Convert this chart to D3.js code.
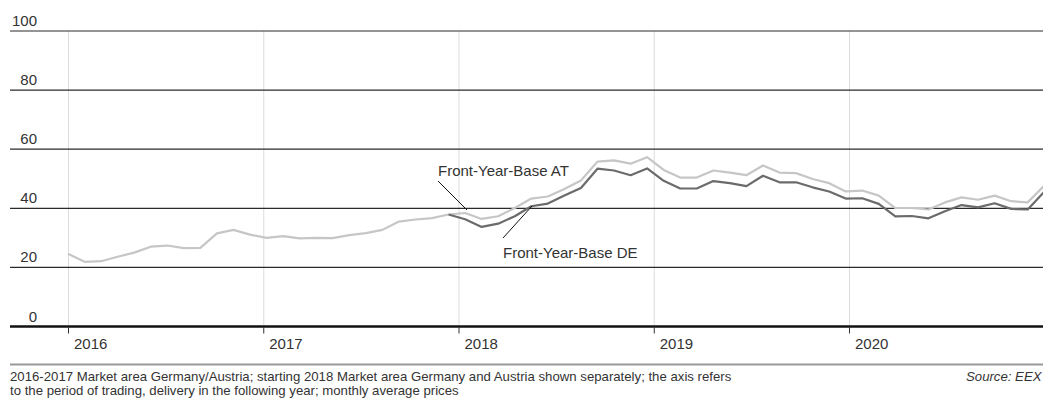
<!DOCTYPE html>
<html>
<head>
<meta charset="utf-8">
<script src="https://cdn.jsdelivr.net/npm/d3@7"></script>
<style>
  html, body { margin: 0; padding: 0; background: #fff; }
  svg { display: block; }
  text { font-family: "Liberation Sans", Arial, sans-serif; fill: #333; }
</style>
</head>
<body>
<svg id="chart" width="1043" height="403"></svg>
<script>
const years = [2016, 2017, 2018, 2019, 2020];
const yTicks = [0, 20, 40, 60, 80, 100];

// Front-Year-Base AT (2016-2017: Germany/Austria), monthly averages Jan 2016 - Dec 2020
const atValues = [
  24.6, 21.9, 22.1, 23.6, 25.0, 27.0, 27.4, 26.5, 26.6, 31.5, 32.7, 31.1,
  30.0, 30.6, 29.8, 30.0, 29.9, 30.9, 31.6, 32.7, 35.5, 36.2, 36.7, 37.9,
  38.4, 36.4, 37.3, 40.1, 43.3, 44.0, 46.5, 49.4, 55.8, 56.2, 55.1, 57.3,
  53.0, 50.4, 50.4, 52.8, 52.1, 51.2, 54.5, 52.1, 51.9, 49.9, 48.5, 45.7,
  46.0, 44.3, 40.1, 40.1, 39.6, 42.0, 43.7, 42.9, 44.3, 42.4, 42.0, 47.7
];
// Front-Year-Base DE (separate from Dec 2017)
const deValues = [
  null, null, null, null, null, null, null, null, null, null, null, null,
  null, null, null, null, null, null, null, null, null, null, null, 37.9,
  36.3, 33.7, 34.8, 37.3, 40.7, 41.6, 44.3, 46.9, 53.4, 52.8, 51.2, 53.5,
  49.3, 46.7, 46.7, 49.2, 48.5, 47.5, 51.0, 48.8, 48.8, 47.1, 45.7, 43.3,
  43.4, 41.5, 37.3, 37.4, 36.6, 39.0, 41.1, 40.3, 41.7, 39.8, 39.6, 45.6
];
const seriesLabels = ["Front-Year-Base AT", "Front-Year-Base DE"];
const footnoteLines = [
  "2016-2017 Market area Germany/Austria; starting 2018 Market area Germany and Austria shown separately; the axis refers",
  "to the period of trading, delivery in the following year; monthly average prices"
];
const sourceText = "Source: EEX";

const svg = d3.select("#chart");
const left = 10, right = 1043;

const xYear = d3.scaleLinear().domain([2016, 2021]).range([68, 1044.25]);
const xIdx = d3.scaleLinear().domain([0, atValues.length - 1]).range([xYear(2016), xYear(2021)]);
const y = d3.scaleLinear().domain([0, 100]).range([326.5, 31]);

// vertical year gridlines
svg.append("g").selectAll("line").data(years).join("line")
  .attr("x1", d => xYear(d) + 0.5).attr("x2", d => xYear(d) + 0.5)
  .attr("y1", y(100)).attr("y2", y(0))
  .attr("stroke", "#dcdcdc").attr("stroke-width", 1);

// horizontal gridlines
svg.append("g").selectAll("line").data(yTicks.filter(d => d > 0)).join("line")
  .attr("x1", left).attr("x2", right)
  .attr("y1", d => y(d)).attr("y2", d => y(d))
  .attr("stroke", "#2a2a2a").attr("stroke-width", 1.2);

// y labels
svg.append("g").selectAll("text").data(yTicks).join("text")
  .attr("x", 37).attr("y", d => y(d) - 5)
  .attr("text-anchor", "end")
  .attr("font-size", 15)
  .text(d => d);

// lines
const line = d3.line()
  .defined(d => d != null)
  .x((d, i) => xIdx(i))
  .y(d => y(d));

svg.append("path").datum(atValues)
  .attr("d", line).attr("fill", "none")
  .attr("stroke", "#c6c6c6").attr("stroke-width", 2.2).attr("stroke-linejoin", "round");
svg.append("path").datum(deValues)
  .attr("d", line).attr("fill", "none")
  .attr("stroke", "#6b6b6b").attr("stroke-width", 2.2).attr("stroke-linejoin", "round");

// x axis baseline
svg.append("line")
  .attr("x1", left).attr("x2", right)
  .attr("y1", y(0)).attr("y2", y(0))
  .attr("stroke", "#111").attr("stroke-width", 2.5);

// ticks and year labels
const xg = svg.append("g");
xg.selectAll("line").data(years).join("line")
  .attr("x1", d => xYear(d) + 0.5).attr("x2", d => xYear(d) + 0.5)
  .attr("y1", y(0)).attr("y2", y(0) + 7)
  .attr("stroke", "#333").attr("stroke-width", 1);
xg.selectAll("text").data(years).join("text")
  .attr("x", d => xYear(d) + 6).attr("y", 349)
  .attr("font-size", 15)
  .text(d => d);

// annotations
const ann = svg.append("g");
ann.append("line").attr("x1", 438).attr("y1", 181).attr("x2", 467).attr("y2", 210)
  .attr("stroke", "#111").attr("stroke-width", 1);
ann.append("text").attr("x", 438).attr("y", 176).attr("font-size", 15).text(seriesLabels[0]);
ann.append("line").attr("x1", 503).attr("y1", 238).attr("x2", 532).attr("y2", 206)
  .attr("stroke", "#111").attr("stroke-width", 1);
ann.append("text").attr("x", 503).attr("y", 258).attr("font-size", 15).text(seriesLabels[1]);

// bottom separator
svg.append("line")
  .attr("x1", left).attr("x2", right)
  .attr("y1", 364.5).attr("y2", 364.5)
  .attr("stroke", "#999").attr("stroke-width", 2);

// footnote
const fn = svg.append("g");
const fnTexts = fn.selectAll("text").data(footnoteLines).join("text")
  .attr("x", left).attr("y", (d, i) => 381 + i * 13.5)
  .attr("font-size", 11)
  .text(d => d);
// fit font size to reference width of the first line
const targets = [717, 452];
let ratio = 0;
fnTexts.each(function(d, i) { ratio += targets[i] / this.getComputedTextLength(); });
ratio /= targets.length;
const fs = 11 * ratio;
fnTexts.attr("font-size", fs);
svg.append("text")
  .attr("x", 1041.5).attr("y", 381)
  .attr("text-anchor", "end")
  .attr("font-size", fs)
  .attr("font-style", "italic")
  .text(sourceText);
</script>
</body>
</html>
